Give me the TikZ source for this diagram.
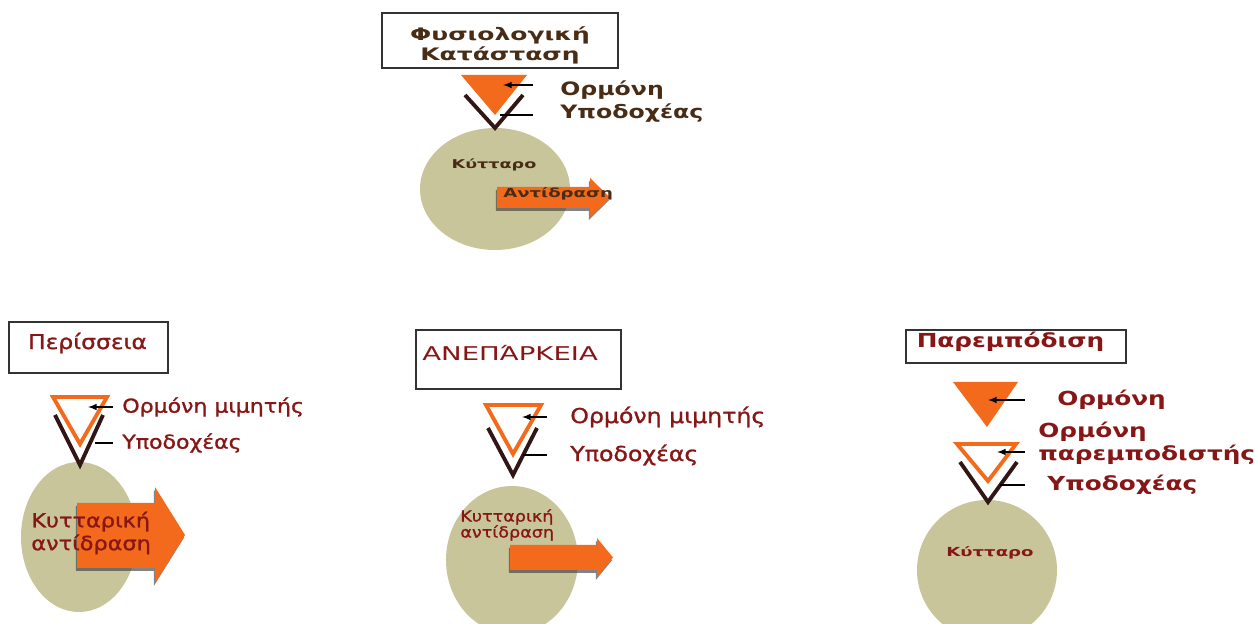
\documentclass[tikz,border=0pt]{standalone}
\usepackage{fontspec}
\setmainfont{DejaVu Sans}
\newfontfamily\wideA[FakeStretch=1.45]{DejaVu Sans}
\newfontfamily\wideB[FakeStretch=1.15,FakeBold=1.2]{DejaVu Sans}
\newfontfamily\wideC[FakeStretch=1.28]{DejaVu Sans}
\usetikzlibrary{shadows}
\definecolor{hormone}{RGB}{244,106,28}
\definecolor{cellbody}{RGB}{201,197,154}
\definecolor{darkred}{RGB}{135,22,22}
\definecolor{darkbrown}{RGB}{72,44,22}
\definecolor{receptor}{RGB}{50,22,22}
\begin{document}
\begin{tikzpicture}[x=0.02cm,y=-0.02cm,
    titlebox/.style={draw=black!80,line width=0.8pt,inner sep=0pt},
    cell/.style={fill=cellbody},
    vshape/.style={draw=receptor,line width=2.2pt},
    hollow/.style={draw=hormone,line width=2.2pt},
    pointer/.style={line width=0.7pt},
    lbl/.style={anchor=west,inner sep=0pt,text=darkred},
    block/.style={fill=hormone,drop shadow={shadow xshift=-0.6pt,shadow yshift=-1.6pt,opacity=.65,fill=black!75}}]
\useasboundingbox (0,0) rectangle (1255,624);

% physiological state
\node[titlebox,minimum width=4.72cm,minimum height=1.1cm] (physbox) at (500,40.5) {};
\node[inner sep=0pt,align=center,text=darkbrown,font=\wideA\bfseries\fontsize{9.8}{11.4}\selectfont] (phys) at (500,45) {Φυσιολογική\\Κατάσταση};
\fill[cell] (495,189) ellipse (75 and 61);
\fill[hormone] (461,75) -- (527,75) -- (495,115) -- cycle;
\draw[vshape] (465,95) -- (495,128) -- (523,95);
\node[lbl,text=darkbrown,font=\wideC\bfseries\fontsize{10.5}{12}\selectfont] (horm1) at (560,90) {Ορμόνη};
\node[lbl,text=darkbrown,font=\wideC\bfseries\fontsize{10.5}{12}\selectfont] (rec1) at (560,113) {Υποδοχέας};
\coordinate (h1a) at (533,85); \coordinate (h1b) at (503,85);
\coordinate (r1a) at (533,115); \coordinate (r1b) at (500,115);
\draw[pointer,-latex] (h1a) -- (h1b);
\draw[pointer] (r1a) -- (r1b);
\node[inner sep=0pt,text=darkbrown,font=\wideA\bfseries\fontsize{6.9}{8}\selectfont] (cell1) at (494,165) {Κύτταρο};
\fill[block] (497,187) -- (590,187) -- (590,178) -- (610,197.5) -- (590,217) -- (590,208) -- (497,208) -- cycle;
\node[lbl,text=darkbrown,font=\wideA\bfseries\fontsize{7.1}{8}\selectfont] (resp1) at (503,194) {Αντίδραση};

% excess
\node[titlebox,minimum width=3.18cm,minimum height=1.02cm] (excbox) at (88.5,347.5) {};
\node[inner sep=0pt,text=darkred,font=\wideB\fontsize{11.6}{14}\selectfont] (exc) at (87.5,343) {Περίσσεια};
\fill[cell] (79,537) ellipse (58 and 75);
\draw[hollow] (53,397) -- (107,397) -- (80,444) -- cycle;
\draw[vshape] (55,415) -- (80,465) -- (103,415);
\node[lbl,font=\wideB\fontsize{10.9}{13}\selectfont] (mim2) at (122,407) {Ορμόνη μιμητής};
\node[lbl,font=\wideB\fontsize{10.9}{13}\selectfont] (rec2) at (122,443) {Υποδοχέας};
\coordinate (m2a) at (113,407); \coordinate (m2b) at (88,407);
\coordinate (r2a) at (113,443); \coordinate (r2b) at (95,443);
\draw[pointer,-latex] (m2a) -- (m2b);
\draw[pointer] (r2a) -- (r2b);
\fill[block] (77,503) -- (155,503) -- (155,487) -- (185,535) -- (155,583) -- (155,568) -- (77,568) -- cycle;
\node[lbl,align=left,font=\wideB\fontsize{11.1}{13}\selectfont] (resp2) at (31,533) {Κυτταρική\\αντίδραση};

% insufficiency
\node[titlebox,minimum width=4.1cm,minimum height=1.18cm] (insbox) at (518.5,359.5) {};
\node[lbl,font=\wideA\fontsize{10.8}{13}\selectfont] (ins) at (422,353) {ΑΝΕΠΆΡΚΕΙΑ};
\fill[cell] (512,560) ellipse (66 and 74);
\draw[hollow] (486,405) -- (541,405) -- (513,454) -- cycle;
\draw[vshape] (488,428) -- (513,475) -- (537,428);
\node[lbl,font=\wideB\fontsize{11.7}{13}\selectfont] (mim3) at (570,417) {Ορμόνη μιμητής};
\node[lbl,font=\wideB\fontsize{11.7}{13}\selectfont] (rec3) at (570,455) {Υποδοχέας};
\coordinate (m3a) at (547,417); \coordinate (m3b) at (522,417);
\coordinate (r3a) at (547,455); \coordinate (r3b) at (523,455);
\draw[pointer,-latex] (m3a) -- (m3b);
\draw[pointer] (r3a) -- (r3b);
\fill[block] (510,545) -- (597,545) -- (597,538) -- (613,557.5) -- (597,577) -- (597,570) -- (510,570) -- cycle;
\node[lbl,align=left,font=\wideB\fontsize{8.7}{9.1}\selectfont] (resp3) at (460,525) {Κυτταρική\\αντίδραση};

% blocking
\node[titlebox,minimum width=4.4cm,minimum height=0.66cm] (blkbox) at (1016,346.5) {};
\node[inner sep=0pt,text=darkred,font=\wideC\bfseries\fontsize{11}{13}\selectfont] (blk) at (1010.5,342) {Παρεμπόδιση};
\fill[cell] (987,570) circle (70);
\fill[hormone] (953,382) -- (1018,382) -- (987,427) -- cycle;
\draw[hollow] (957,444) -- (1016,444) -- (988,481) -- cycle;
\draw[vshape] (960,462) -- (988,502) -- (1017,462);
\node[lbl,font=\wideC\bfseries\fontsize{11}{13}\selectfont] (horm4) at (1057,400) {Ορμόνη};
\node[lbl,align=left,font=\wideC\bfseries\fontsize{11}{13}\selectfont] (anta4) at (1038,443.5) {Ορμόνη\\παρεμποδιστής};
\node[lbl,font=\wideC\bfseries\fontsize{11}{13}\selectfont] (rec4) at (1047,485) {Υποδοχέας};
\coordinate (h4a) at (1025,400); \coordinate (h4b) at (988,400);
\coordinate (a4a) at (1025,452); \coordinate (a4b) at (997,452);
\coordinate (r4a) at (1025,485); \coordinate (r4b) at (1000,485);
\draw[pointer,-latex] (h4a) -- (h4b);
\draw[pointer,-latex] (a4a) -- (a4b);
\draw[pointer] (r4a) -- (r4b);
\node[inner sep=0pt,text=darkred,font=\wideA\bfseries\fontsize{7.1}{8}\selectfont] (cell4) at (990,553) {Κύτταρο};
\end{tikzpicture}
\end{document}
